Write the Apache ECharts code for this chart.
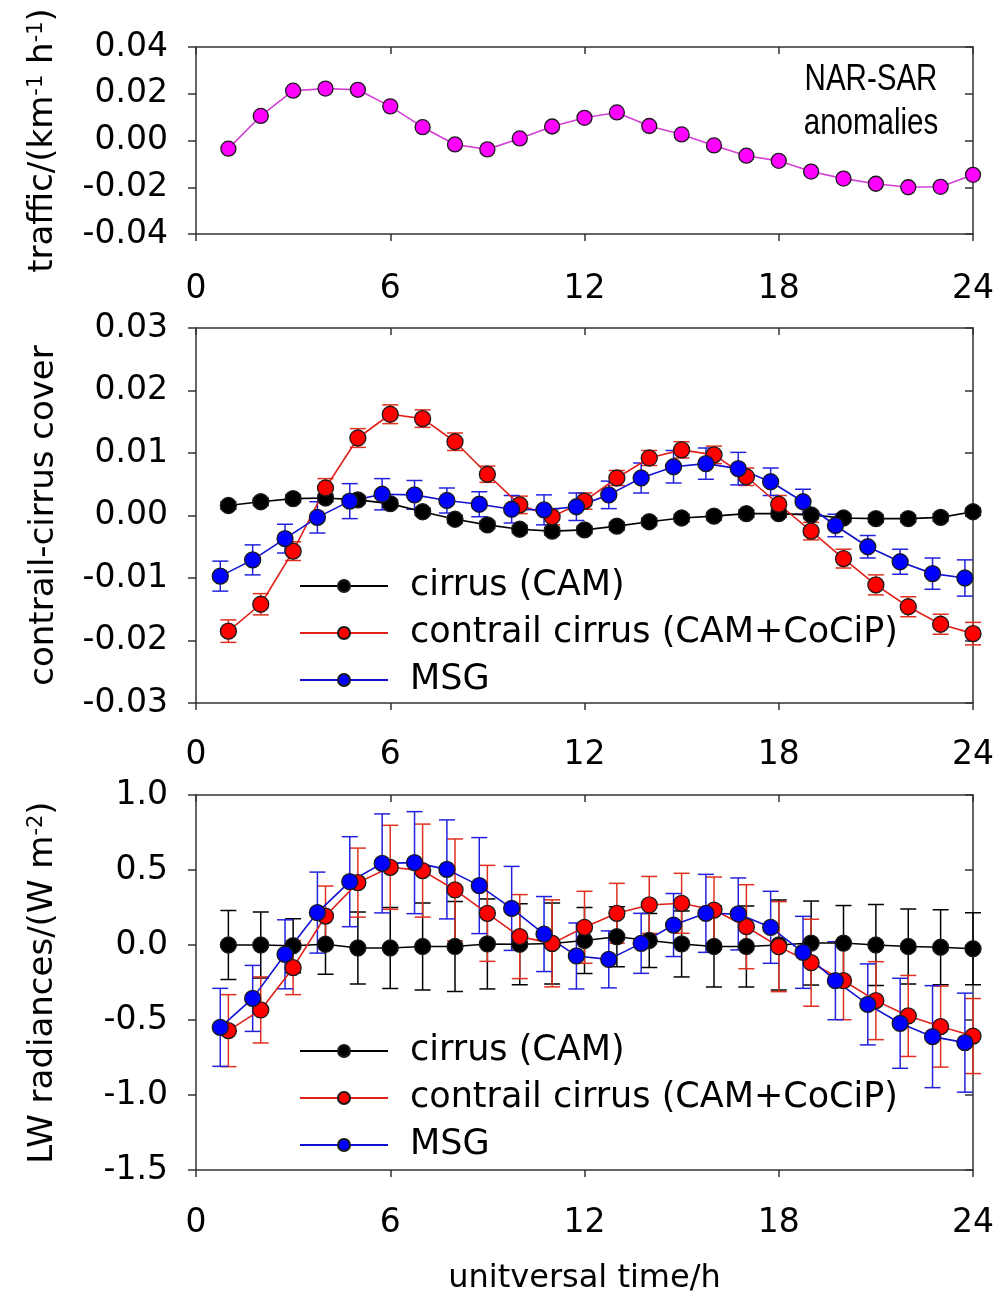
<!DOCTYPE html>
<html><head><meta charset="utf-8">
<script src="https://cdn.jsdelivr.net/npm/echarts@6/dist/echarts.min.js"></script>
<style>html,body{margin:0;padding:0;background:#fff}#c{width:1000px;height:1304px}</style>
</head><body><div id="c"></div>
<script>
// ---------- data ----------
const hours = [1,2,3,4,5,6,7,8,9,10,11,12,13,14,15,16,17,18,19,20,21,22,23,24];
const msgHours = [0.75,1.75,2.75,3.75,4.75,5.75,6.75,7.75,8.75,9.75,10.75,11.75,12.75,13.75,14.75,15.75,16.75,17.75,18.75,19.75,20.75,21.75,22.75,23.75];
const xTicks = [0,6,12,18,24];

const traffic = [-0.0035,0.0105,0.0213,0.0222,0.0217,0.0146,0.0057,-0.0017,-0.0038,0.0009,0.0060,0.0097,0.0120,0.0062,0.0026,-0.0021,-0.0065,-0.0087,-0.0133,-0.0163,-0.0185,-0.0200,-0.0198,-0.0147];

const coverCirrus = [0.0016,0.0022,0.0027,0.0028,0.0025,0.0019,0.0006,-0.0006,-0.0015,-0.0022,-0.0025,-0.0023,-0.0017,-0.0010,-0.0004,-0.0001,0.0003,0.0003,0.0001,-0.0004,-0.0005,-0.0005,-0.0003,0.0006];
const coverCirrusErr = [0.0006,0.0006,0.0006,0.0006,0.0006,0.0006,0.0006,0.0006,0.0006,0.0006,0.0006,0.0006,0.0006,0.0006,0.0006,0.0006,0.0006,0.0006,0.0006,0.0006,0.0006,0.0006,0.0006,0.0006];
const coverContrail = [-0.0185,-0.0142,-0.0057,0.0044,0.0124,0.0162,0.0155,0.0118,0.0066,0.0017,-0.0002,0.0023,0.0060,0.0092,0.0105,0.0097,0.0062,0.0018,-0.0025,-0.0069,-0.0111,-0.0146,-0.0174,-0.0189];
const coverContrailErr = [0.0018,0.0017,0.0015,0.0015,0.0015,0.0015,0.0014,0.0014,0.0013,0.0014,0.0013,0.0013,0.0012,0.0012,0.0013,0.0014,0.0014,0.0014,0.0014,0.0015,0.0016,0.0016,0.0016,0.0018];
const coverMSG = [-0.0097,-0.0071,-0.0037,-0.0003,0.0023,0.0034,0.0033,0.0024,0.0018,0.0010,0.0009,0.0014,0.0033,0.0060,0.0078,0.0083,0.0075,0.0054,0.0022,-0.0016,-0.0050,-0.0074,-0.0093,-0.0100];
const coverMSGErr = [0.0024,0.0024,0.0023,0.0025,0.0028,0.0025,0.0023,0.0020,0.0020,0.0022,0.0024,0.0022,0.0022,0.0024,0.0026,0.0025,0.0026,0.0022,0.0020,0.0018,0.0018,0.0020,0.0025,0.0029];

const lwCirrus = [0.00,0.00,-0.005,0.005,-0.02,-0.02,-0.01,-0.01,0.007,0.005,0.01,0.03,0.055,0.03,0.007,-0.01,-0.01,0.00,0.013,0.013,0.00,-0.01,-0.015,-0.025];
const lwCirrusErr = [0.23,0.22,0.18,0.20,0.24,0.27,0.29,0.30,0.30,0.27,0.27,0.22,0.20,0.18,0.22,0.27,0.27,0.30,0.28,0.25,0.27,0.25,0.25,0.24];
const lwContrail = [-0.571,-0.433,-0.151,0.193,0.416,0.518,0.496,0.367,0.211,0.056,0.011,0.118,0.211,0.267,0.278,0.233,0.122,-0.011,-0.118,-0.238,-0.371,-0.473,-0.544,-0.607];
const lwContrailErr = [0.24,0.22,0.18,0.20,0.23,0.28,0.31,0.34,0.32,0.28,0.29,0.24,0.20,0.19,0.20,0.22,0.28,0.30,0.29,0.26,0.26,0.27,0.27,0.25];
const lwMSG = [-0.549,-0.356,-0.062,0.216,0.422,0.544,0.549,0.504,0.396,0.244,0.073,-0.073,-0.096,0.011,0.133,0.211,0.207,0.118,-0.049,-0.238,-0.396,-0.522,-0.611,-0.651];
const lwMSGErr = [0.26,0.22,0.23,0.27,0.30,0.33,0.34,0.33,0.32,0.28,0.25,0.22,0.19,0.20,0.21,0.26,0.24,0.24,0.24,0.26,0.27,0.30,0.34,0.33];

const names = ['cirrus (CAM)','contrail cirrus (CAM+CoCiP)','MSG'];

// ---------- styling ----------
const WIDE = '"DejaVu Sans", Verdana, sans-serif';
const NARROW = '"Liberation Sans", Arial, sans-serif';
const AX = '#333';
const C = {
  black: {line:'#000000', fill:'#000000', err:'#000000'},
  red:   {line:'#e0201a', fill:'#ff0000', err:'#e0301e'},
  blue:  {line:'#1010d0', fill:'#0000ff', err:'#2222dd'},
  mag:   {line:'#d23fd2', fill:'#ff00ff'}
};

function fmt(d){ return v => (Math.abs(v) < 1e-9 ? 0 : v).toFixed(d); }

const grids = [
  {left:196, right:27, top:47, height:187},
  {left:196, right:27, top:328, height:375},
  {left:196, right:27, top:795, height:375}
];

const xAxis = [], yAxis = [];
const yDefs = [
  {min:-0.04, max:0.04, interval:0.02, dec:2,
   name:'{a|traffic/(km}{s|-1}{a| h}{s|-1}{a|)}'},
  {min:-0.03, max:0.03, interval:0.01, dec:2, name:'{a|contrail-cirrus cover}'},
  {min:-1.5, max:1.0, interval:0.5, dec:1, name:'{a|LW radiances/(W m}{s|-2}{a|)}'}
];
const xMargins = [39, 36, 37];
grids.forEach((g, gi) => {
  const axLine = {onZero:false, lineStyle:{color:AX, width:1.5}};
  const xa = {type:'value', gridIndex:gi, min:xTicks[0], max:xTicks[xTicks.length-1], interval:6, position:'bottom',
    axisLine:axLine, axisTick:{inside:false, length:7, lineStyle:{color:AX, width:1.5}},
    axisLabel:{margin:xMargins[gi], fontSize:33, color:'#000', fontFamily:WIDE},
    splitLine:{show:false}};
  if (gi === 2) {
    xa.name = 'unitversal time/h';
    xa.nameLocation = 'middle';
    xa.nameGap = 93;
    xa.nameTextStyle = {fontSize:32, color:'#000', fontFamily:WIDE};
  }
  xAxis.push(xa);
  xAxis.push({type:'value', gridIndex:gi, min:0, max:24, interval:6, position:'top',
    axisLine:axLine, axisTick:{inside:true, length:7, lineStyle:{color:AX, width:1.5}},
    axisLabel:{show:false}, splitLine:{show:false}});
  const d = yDefs[gi];
  yAxis.push({type:'value', gridIndex:gi, min:d.min, max:d.max, interval:d.interval, position:'left',
    axisLine:axLine, axisTick:{show:true, inside:false, length:8, lineStyle:{color:AX, width:1.5}},
    axisLabel:{margin:28, fontSize:33, color:'#000', fontFamily:WIDE, formatter:fmt(d.dec)},
    splitLine:{show:false},
    name:d.name, nameLocation:'middle', nameRotate:90, nameGap:135,
    nameTextStyle:{color:'#000', fontFamily:WIDE, fontSize:34,
      rich:{a:{fontSize:34, fontFamily:WIDE, color:'#000'}, s:{fontSize:21, fontFamily:WIDE, color:'#000', verticalAlign:'top', padding:[0,0,14,0]}}}});
  yAxis.push({type:'value', gridIndex:gi, min:d.min, max:d.max, interval:d.interval, position:'right',
    axisLine:axLine, axisTick:{show:true, inside:true, length:8, lineStyle:{color:AX, width:1.5}},
    axisLabel:{show:false}, splitLine:{show:false}});
});

function lineSeries(name, xs, ys, col, gi, size) {
  return {type:'line', name:name, xAxisIndex:2*gi, yAxisIndex:2*gi,
    data: xs.map((x,i)=>[x, ys[i]]),
    symbol:'circle', symbolSize:size || 16, clip:false, z:3,
    lineStyle:{color:col.line, width:1.6},
    itemStyle:{color:col.fill, borderColor:'#1a1a1a', borderWidth:1.3},
    emphasis:{disabled:true}, animation:false};
}
function errSeries(xs, ys, es, col, gi) {
  return {type:'custom', xAxisIndex:2*gi, yAxisIndex:2*gi, clip:false, z:3, silent:true,
    data: xs.map((x,i)=>[x, ys[i], es[i]]),
    encode:{x:0, y:1},
    renderItem:(params, api) => {
      const x = api.value(0), y = api.value(1), e = api.value(2);
      const lo = api.coord([x, y - e]), hi = api.coord([x, y + e]);
      const w = 8;
      const st = {stroke:col.err, lineWidth:1.5};
      return {type:'group', children:[
        {type:'line', shape:{x1:lo[0], y1:lo[1], x2:hi[0], y2:hi[1]}, style:st},
        {type:'line', shape:{x1:lo[0]-w, y1:lo[1], x2:lo[0]+w, y2:lo[1]}, style:st},
        {type:'line', shape:{x1:hi[0]-w, y1:hi[1], x2:hi[0]+w, y2:hi[1]}, style:st}
      ]};
    }, animation:false};
}

const series = [
  lineSeries('traffic', hours, traffic, C.mag, 0, 15),
  errSeries(hours, coverCirrus, coverCirrusErr, C.black, 1),
  lineSeries(names[0], hours, coverCirrus, C.black, 1),
  errSeries(hours, coverContrail, coverContrailErr, C.red, 1),
  lineSeries(names[1], hours, coverContrail, C.red, 1),
  errSeries(msgHours, coverMSG, coverMSGErr, C.blue, 1),
  lineSeries(names[2], msgHours, coverMSG, C.blue, 1),
  errSeries(hours, lwCirrus, lwCirrusErr, C.black, 2),
  lineSeries(names[0], hours, lwCirrus, C.black, 2),
  errSeries(hours, lwContrail, lwContrailErr, C.red, 2),
  lineSeries(names[1], hours, lwContrail, C.red, 2),
  errSeries(msgHours, lwMSG, lwMSGErr, C.blue, 2),
  lineSeries(names[2], msgHours, lwMSG, C.blue, 2)
];

function legendAt(top) {
  return {data:names, orient:'vertical', left:294, top:top, itemWidth:88, itemHeight:15, itemGap:7,
    selectedMode:false,
    textStyle:{fontSize:35, lineHeight:40, color:'#000', fontFamily:WIDE, padding:[0,0,0,17]}};
}

const chart = echarts.init(document.getElementById('c'), null, {renderer:'canvas'});
chart.setOption({
  animation:false,
  backgroundColor:'#fff',
  grid:grids,
  xAxis:xAxis,
  yAxis:yAxis,
  legend:[legendAt(561), legendAt(1026)],
  graphic:[{type:'text', x:871, y:58, scaleX:0.82, style:{text:'NAR-SAR\nanomalies', align:'center', verticalAlign:'top',
    fontSize:36, lineHeight:44, fontFamily:NARROW, fill:'#000'}}],
  series:series
});
</script>
</body></html>
